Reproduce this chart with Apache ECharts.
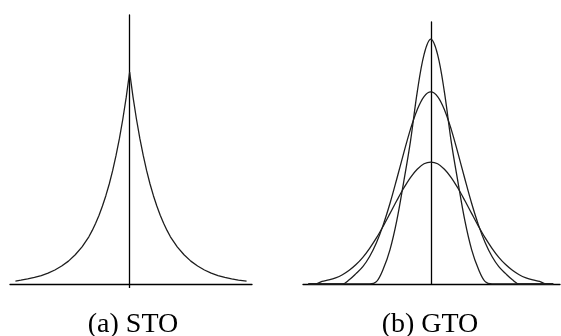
<!DOCTYPE html>
<html>
<head>
<meta charset="utf-8">
<script src="https://cdn.jsdelivr.net/npm/echarts@6/dist/echarts.min.js"></script>
<style>
html,body{margin:0;padding:0;background:#fff;}
#chart{width:561px;height:336px;}
</style>
</head>
<body>
<div id="chart"></div>
<script>
// Panel (a): STO curve
const stoX = [-4.2,-4,-3.75,-3.5,-3.25,-3,-2.75,-2.5,-2.25,-2,-1.75,-1.5,-1.375,-1.25,-1.125,-1,-0.875,-0.75,-0.625,-0.5,-0.375,-0.25,-0.125,
  0,
  0.125,0.25,0.375,0.5,0.625,0.75,0.875,1,1.125,1.25,1.375,1.5,1.75,2,2.25,2.5,2.75,3,3.25,3.5,3.75,4,4.3];
const stoY = [0.014,0.018,0.024,0.031,0.040,0.051,0.066,0.085,0.108,0.138,0.175,0.223,0.253,0.287,0.325,0.368,0.417,0.472,0.535,0.607,0.687,0.779,0.882,
  1.0,
  0.882,0.779,0.687,0.607,0.535,0.472,0.417,0.368,0.325,0.287,0.253,0.223,0.175,0.138,0.108,0.085,0.066,0.051,0.040,0.031,0.024,0.018,0.014];

// Panel (b): three GTO curves
const gtoX = [-4.5,-4.25,-4,-3.75,-3.5,-3.25,-3,-2.75,-2.5,-2.25,-2,-1.75,-1.5,-1.25,-1,-0.75,-0.5,-0.25,
  0,
  0.25,0.5,0.75,1,1.25,1.5,1.75,2,2.25,2.5,2.75,3,3.25,3.5,3.75,4,4.25,4.5];
const gtoTall = [0,0,0,0,0,0,0,0,0,0,0.011,0.071,0.163,0.301,0.481,0.674,0.908,1.086,
  1.159,
  1.086,0.908,0.674,0.481,0.301,0.163,0.071,0.011,0,0,0,0,0,0,0,0,0,0];
const gtoMid = [0,0,0,0,0,0,0.020,0.049,0.082,0.130,0.195,0.280,0.382,0.498,0.618,0.732,0.825,0.887,
  0.909,
  0.887,0.825,0.732,0.618,0.498,0.382,0.280,0.195,0.130,0.082,0.049,0.020,0,0,0,0,0,0];
const gtoWide = [0,0,0.012,0.019,0.029,0.044,0.065,0.092,0.126,0.169,0.218,0.274,0.334,0.395,0.453,0.504,0.543,0.569,
  0.577,
  0.569,0.543,0.504,0.453,0.395,0.334,0.274,0.218,0.169,0.126,0.092,0.065,0.044,0.029,0.019,0.012,0,0];

const captions = ['(a) STO', '(b) GTO'];

function pairs(xs, ys) { return xs.map((x, i) => [x, ys[i]]); }

const axisLineStyle = { color: '#000', width: 1.3 };
const curveStyle = { color: '#1e1e1e', width: 1.3 };

function xAx(grid, min, max, tick) {
  return {
    type: 'value', gridIndex: grid, min: min, max: max,
    axisLine: { show: true, onZero: false, lineStyle: axisLineStyle },
    axisTick: tick ? { show: true, customValues: [0], length: 4, lineStyle: axisLineStyle } : { show: false },
    axisLabel: { show: false }, splitLine: { show: false }
  };
}
function yAx(grid, max) {
  return {
    type: 'value', gridIndex: grid, min: 0, max: max,
    axisLine: { show: true, onZero: true, lineStyle: axisLineStyle },
    axisTick: { show: false }, axisLabel: { show: false }, splitLine: { show: false }
  };
}
function curve(xi, data, smooth) {
  return {
    type: 'line', xAxisIndex: xi, yAxisIndex: xi, data: data,
    showSymbol: false, smooth: smooth, lineStyle: curveStyle, silent: true, z: 1
  };
}

const chart = echarts.init(document.getElementById('chart'), null, { renderer: 'canvas' });
chart.setOption({
  animation: false,
  backgroundColor: '#fff',
  grid: [
    { left: 10, top: 15, width: 242, height: 269 },
    { left: 303, top: 22, width: 257, height: 262 }
  ],
  xAxis: [xAx(0, -4.4, 4.5, true), xAx(1, -4.7, 4.75, false)],
  yAxis: [yAx(0, 1.27), yAx(1, 1.24)],
  series: [
    curve(0, pairs(stoX, stoY), false),
    curve(1, pairs(gtoX, gtoTall), 0.35),
    curve(1, pairs(gtoX, gtoMid), 0.35),
    curve(1, pairs(gtoX, gtoWide), 0.35)
  ],
  graphic: [
    { type: 'text', x: 133, y: 325, style: { text: captions[0], font: '28px "Liberation Serif"', fill: '#000', align: 'center', verticalAlign: 'middle' } },
    { type: 'text', x: 430, y: 325, style: { text: captions[1], font: '28px "Liberation Serif"', fill: '#000', align: 'center', verticalAlign: 'middle' } }
  ]
});
</script>
</body>
</html>
